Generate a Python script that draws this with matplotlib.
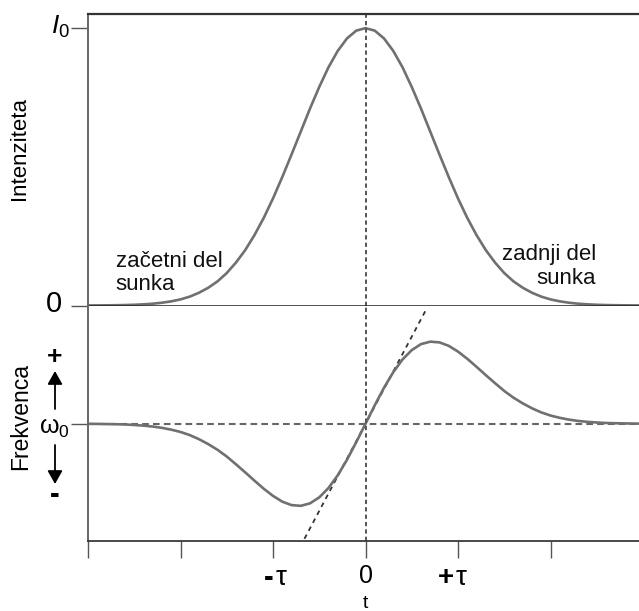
import numpy as np
import matplotlib
matplotlib.use("Agg")
import matplotlib.pyplot as plt
from matplotlib import transforms, patches

plt.rcParams['font.family'] = ['Liberation Sans', 'DejaVu Sans']
plt.rcParams['mathtext.fontset'] = 'custom'
plt.rcParams['mathtext.rm'] = 'Liberation Sans'
plt.rcParams['mathtext.it'] = 'Liberation Sans:italic'

# ------------------------
# Data (time in units of tau)
# ------------------------
t_half = [0.0, 0.1, 0.2, 0.3, 0.4, 0.5, 0.6, 0.7, 0.8, 0.9, 1.0,
          1.1, 1.2, 1.3, 1.4, 1.5, 1.6, 1.7, 1.8, 1.9, 2.0,
          2.1, 2.2, 2.3, 2.4, 2.5, 2.6, 2.7, 2.8, 2.9, 3.0]
# pulse intensity (relative to I0), symmetric about t = 0
intensity_half = [1.000, 0.991, 0.963, 0.918, 0.859, 0.788, 0.710, 0.627, 0.544, 0.463, 0.386,
                  0.316, 0.254, 0.200, 0.155, 0.117, 0.087, 0.064, 0.046, 0.032, 0.022,
                  0.015, 0.010, 0.0065, 0.0042, 0.0026, 0.0016, 0.0010, 0.0006, 0.0003, 0.0002]
# frequency shift from omega0 (relative to its maximum), antisymmetric
freq_half = [0.000, 0.225, 0.438, 0.627, 0.782, 0.896, 0.969, 0.999, 0.990, 0.948, 0.878,
             0.791, 0.693, 0.592, 0.494, 0.399, 0.317, 0.248, 0.188, 0.138, 0.100,
             0.072, 0.050, 0.034, 0.023, 0.015, 0.009, 0.006, 0.004, 0.002, 0.001]
# tangent at t = 0 (dashed)
tangent_t = [-0.66, 0.665]
tangent_f = [-1.40, 1.41]

xticks = [-3, -2, -1, 0, 1, 2]

t = np.concatenate((-np.array(t_half[:0:-1]), t_half))
intensity = np.concatenate((intensity_half[:0:-1], intensity_half))
freq = np.concatenate((-np.array(freq_half[:0:-1]), freq_half))

# ------------------------
# Layout
# ------------------------
W, H = 639, 611
fig = plt.figure(figsize=(W / 100, H / 100), dpi=100)

def fx(px):
    return px / W

def fy(py):
    return 1 - py / H

left, right = 88, 639
y_top, y_mid, y_bot = 14, 305.5, 541
ax1 = fig.add_axes([fx(left), fy(y_mid), fx(right - left), (y_mid - y_top) / H])
ax2 = fig.add_axes([fx(left), fy(y_bot), fx(right - left), (y_bot - y_mid) / H])

xlim = (-3, -3 + (right - left) / 92.5)
curve_c = '#707070'
axis_c = '#3a3a3a'

# intensity panel
ax1.plot(t, intensity, color=curve_c, lw=1.9)
ax1.axvline(0, color='#555555', lw=1.4, dashes=(2.2, 1.6))
ax1.set_xlim(xlim)
ax1.set_ylim(0, 1.051)
ax1.set_xticks([])
ax1.set_yticks([0, 1])
ax1.set_yticklabels([])
ax1.tick_params(axis='y', direction='out', length=12, width=1.0, color='#555555')
ax1.spines['right'].set_visible(False)
ax1.spines['top'].set_color('#333333')
ax1.spines['top'].set_linewidth(1.6)
ax1.spines['bottom'].set_color('#222222')
ax1.spines['bottom'].set_linewidth(1.1)
ax1.spines['left'].set_color('#666666')
ax1.spines['left'].set_linewidth(1.4)

ax1.text(-2.70, 0.117, 'začetni del\nsunka', fontsize=16, ha='left', va='center',
         linespacing=1.15, color='#111111')
ax1.text(2.49, 0.141, 'zadnji del\nsunka', fontsize=16, ha='right', va='center',
         multialignment='right', linespacing=1.15, color='#111111')

# frequency panel
ax2.axhline(0, color='#666666', lw=1.5, dashes=(3.2, 2.0))
ax2.plot(tangent_t, tangent_f, color='#333333', lw=1.3, dashes=(2.6, 2.4))
ax2.plot(t, freq, color=curve_c, lw=1.9)
ax2.axvline(0, color='#555555', lw=1.4, dashes=(2.2, 1.6))
ax2.set_xlim(xlim)
ax2.set_ylim(-1.427, 1.439)
ax2.set_xticks(xticks)
ax2.set_xticklabels([])
ax2.set_yticks([0])
ax2.set_yticklabels([])
ax2.tick_params(axis='both', direction='out', length=12.5, width=1.0, color='#555555')
ax2.spines['right'].set_visible(False)
ax2.spines['top'].set_visible(False)
ax2.spines['bottom'].set_color(axis_c)
ax2.spines['bottom'].set_linewidth(1.3)
ax2.spines['left'].set_color('#666666')
ax2.spines['left'].set_linewidth(1.4)

# x tick labels: data x, figure y
xtr = transforms.blended_transform_factory(ax2.transData, fig.transFigure)
ax2.text(-0.99, fy(578), '-', fontsize=21, fontweight='bold', ha='right', va='center', transform=xtr)
ax2.text(-0.97, fy(578), 'τ', fontsize=20, ha='left', va='center', transform=xtr)
ax2.text(0, fy(576), '0', fontsize=18, ha='center', va='center', transform=xtr)
ax2.text(0.96, fy(578), '+', fontsize=20, fontweight='bold', ha='right', va='center', transform=xtr)
ax2.text(0.97, fy(578), 'τ', fontsize=20, ha='left', va='center', transform=xtr)
ax2.text(0, fy(603), 't', fontsize=14, ha='center', va='center', transform=xtr)

# left-side labels
fig.text(fx(20), fy(148), 'Intenziteta', rotation=90, fontsize=16, ha='center', va='center')
fig.text(fx(21), fy(416), 'Frekvenca', rotation=90, fontsize=16.5, ha='center', va='center')
fig.text(fx(70), fy(27), r'$\mathit{I}_0$', fontsize=19, ha='right', va='center')
fig.text(fx(62), fy(304), '0', fontsize=21, ha='right', va='center')
fig.text(fx(70), fy(428), r'$\mathrm{\omega}_0$', fontsize=18, ha='right', va='center')
fig.text(fx(55), fy(357), '+', fontsize=19, fontweight='bold', ha='center', va='center')
fig.text(fx(55), fy(495), '-', fontsize=21, fontweight='bold', ha='center', va='center')
for y0, y1 in [(409, 371), (445, 484)]:
    fig.add_artist(patches.FancyArrowPatch(
        (fx(55), fy(y0)), (fx(55), fy(y1)), transform=fig.transFigure,
        arrowstyle='-|>,head_length=8,head_width=4.5', lw=1.3, color='black',
        shrinkA=0, shrinkB=0))

fig.savefig('out.png', dpi=100)
